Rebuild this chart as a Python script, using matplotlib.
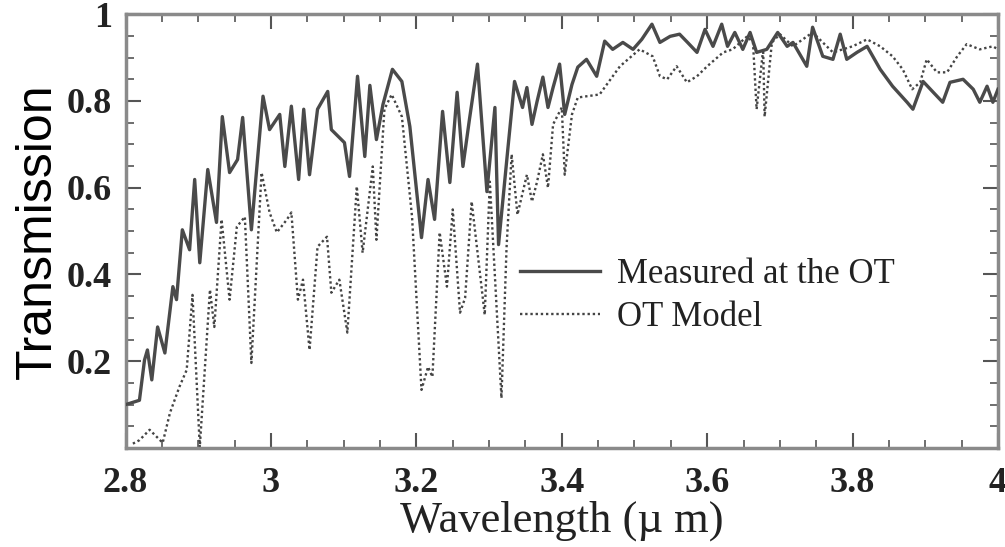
import matplotlib.pyplot as plt
from matplotlib.ticker import MultipleLocator, FixedLocator

# measured transmission at the OT
measured_wl = [2.800, 2.819, 2.826, 2.830, 2.836, 2.844, 2.854, 2.865, 2.870, 2.878,
               2.888, 2.895, 2.902, 2.913, 2.925, 2.933, 2.943, 2.954, 2.961, 2.973,
               2.989, 2.998, 3.012, 3.019, 3.028, 3.038, 3.045, 3.053, 3.064, 3.078,
               3.083, 3.101, 3.108, 3.119, 3.129, 3.136, 3.145, 3.154, 3.167, 3.180,
               3.191, 3.207, 3.216, 3.225, 3.236, 3.246, 3.256, 3.264, 3.273, 3.284,
               3.297, 3.308, 3.313, 3.326, 3.335, 3.346, 3.352, 3.359, 3.366, 3.374,
               3.381, 3.388, 3.397, 3.404, 3.414, 3.422, 3.434, 3.448, 3.459, 3.470,
               3.484, 3.498, 3.510, 3.524, 3.535, 3.549, 3.562, 3.573, 3.586, 3.597,
               3.608, 3.620, 3.628, 3.638, 3.649, 3.659, 3.668, 3.682, 3.697, 3.710,
               3.718, 3.737, 3.745, 3.759, 3.773, 3.783, 3.792, 3.806, 3.820, 3.838,
               3.855, 3.875, 3.883, 3.897, 3.911, 3.924, 3.934, 3.952, 3.966, 3.975,
               3.985, 3.993, 4.000]
measured_tr = [0.100, 0.110, 0.203, 0.226, 0.157, 0.279, 0.219, 0.372, 0.342, 0.503,
               0.457, 0.619, 0.427, 0.642, 0.520, 0.764, 0.635, 0.665, 0.762, 0.503,
               0.811, 0.734, 0.769, 0.649, 0.788, 0.619, 0.781, 0.630, 0.781, 0.822,
               0.734, 0.704, 0.626, 0.857, 0.672, 0.836, 0.711, 0.792, 0.873, 0.845,
               0.741, 0.485, 0.619, 0.527, 0.776, 0.612, 0.820, 0.649, 0.758, 0.885,
               0.591, 0.785, 0.469, 0.693, 0.845, 0.785, 0.831, 0.746, 0.799, 0.855,
               0.785, 0.831, 0.885, 0.769, 0.838, 0.878, 0.896, 0.857, 0.938, 0.919,
               0.935, 0.919, 0.942, 0.977, 0.935, 0.949, 0.954, 0.935, 0.912, 0.965,
               0.926, 0.977, 0.926, 0.958, 0.919, 0.958, 0.912, 0.919, 0.958, 0.926,
               0.935, 0.880, 0.970, 0.903, 0.896, 0.954, 0.896, 0.912, 0.926, 0.873,
               0.834, 0.797, 0.781, 0.845, 0.820, 0.797, 0.843, 0.850, 0.827, 0.797,
               0.834, 0.797, 0.827]

# OT model transmission
model_wl = [2.810, 2.819, 2.833, 2.851, 2.861, 2.874, 2.884, 2.892, 2.902, 2.916,
            2.922, 2.932, 2.943, 2.953, 2.964, 2.973, 2.987, 2.998, 3.008, 3.022,
            3.028, 3.037, 3.044, 3.053, 3.064, 3.077, 3.083, 3.094, 3.105, 3.118,
            3.126, 3.140, 3.145, 3.156, 3.166, 3.180, 3.194, 3.207, 3.216, 3.222,
            3.232, 3.242, 3.250, 3.260, 3.267, 3.276, 3.294, 3.301, 3.317, 3.324,
            3.331, 3.339, 3.352, 3.359, 3.366, 3.374, 3.381, 3.388, 3.400, 3.404,
            3.414, 3.422, 3.452, 3.480, 3.507, 3.525, 3.535, 3.545, 3.558, 3.572,
            3.586, 3.600, 3.622, 3.635, 3.655, 3.663, 3.668, 3.677, 3.679, 3.689,
            3.700, 3.718, 3.745, 3.773, 3.800, 3.820, 3.838, 3.855, 3.869, 3.882,
            3.893, 3.902, 3.916, 3.930, 3.944, 3.957, 3.975, 3.993, 4.000]
model_tr = [0.010, 0.018, 0.042, 0.012, 0.081, 0.141, 0.180, 0.353, 0.002, 0.365,
            0.279, 0.527, 0.342, 0.510, 0.533, 0.196, 0.635, 0.543, 0.497, 0.527,
            0.543, 0.342, 0.388, 0.226, 0.464, 0.487, 0.358, 0.388, 0.266, 0.603,
            0.450, 0.649, 0.480, 0.781, 0.815, 0.764, 0.533, 0.134, 0.187, 0.164,
            0.497, 0.372, 0.550, 0.312, 0.346, 0.568, 0.307, 0.614, 0.115, 0.462,
            0.677, 0.538, 0.630, 0.568, 0.614, 0.677, 0.600, 0.746, 0.785, 0.630,
            0.769, 0.808, 0.815, 0.880, 0.919, 0.903, 0.857, 0.850, 0.880, 0.843,
            0.857, 0.880, 0.912, 0.919, 0.949, 0.935, 0.781, 0.919, 0.764, 0.935,
            0.954, 0.926, 0.958, 0.912, 0.926, 0.942, 0.926, 0.903, 0.873, 0.827,
            0.843, 0.896, 0.866, 0.866, 0.903, 0.931, 0.919, 0.926, 0.919]

x_ticks = [2.8, 3.0, 3.2, 3.4, 3.6, 3.8, 4.0]
x_labels = ["2.8", "3", "3.2", "3.4", "3.6", "3.8", "4"]
y_ticks = [0.2, 0.4, 0.6, 0.8, 1.0]
y_labels = ["0.2", "0.4", "0.6", "0.8", "1"]

SERIF = "Liberation Serif"
SPINE = "#8a8a8a"

fig = plt.figure(figsize=(10.05, 5.47), dpi=100)
ax = fig.add_axes([0.125, 0.181, 0.868, 0.793])

ax.plot(model_wl, model_tr, color="#444444", lw=1.7, ls=(0, (1, 1.2)),
        label="OT Model", zorder=2)
ax.plot(measured_wl, measured_tr, color="#4a4a4a", lw=2.4,
        label="Measured at the OT", zorder=3)

ax.set_xlim(2.8, 4.0)
ax.set_ylim(0, 1.0)

ax.xaxis.set_major_locator(FixedLocator(x_ticks))
ax.set_xticklabels(x_labels)
ax.xaxis.set_minor_locator(MultipleLocator(0.05))
ax.yaxis.set_major_locator(FixedLocator(y_ticks))
ax.set_yticklabels(y_labels)
ax.yaxis.set_minor_locator(MultipleLocator(0.05))

ax.tick_params(which="both", direction="in", top=True, right=True, color="#555555")
ax.tick_params(which="major", length=11, width=1.5)
ax.tick_params(axis="x", which="major", pad=14)
ax.tick_params(axis="y", which="major", pad=10)
ax.tick_params(which="minor", length=6, width=1.2)
for lab in ax.get_xticklabels() + ax.get_yticklabels():
    lab.set_fontfamily(SERIF)
    lab.set_fontweight("bold")
    lab.set_fontsize(26)
    lab.set_color("#222222")

for s in ax.spines.values():
    s.set_color(SPINE)
    s.set_linewidth(2.5)

ax.set_xlabel("Wavelength (\u00b5 m)", fontfamily=SERIF, fontsize=32,
              color="#222222", labelpad=0)
ax.set_ylabel("Transmission", fontfamily="Liberation Sans", fontsize=36,
              color="black", labelpad=4)

handles, labels = ax.get_legend_handles_labels()
leg = ax.legend(handles[::-1], labels[::-1], loc="center left",
                bbox_to_anchor=(0.452, 0.35), frameon=False,
                prop={"family": SERIF, "size": 25},
                handlelength=2.3, handletextpad=0.5, labelspacing=0.3,
                borderpad=0, borderaxespad=0)
for t in leg.get_texts():
    t.set_color("#222222")

plt.savefig("out.png", dpi=100)
plt.close()
